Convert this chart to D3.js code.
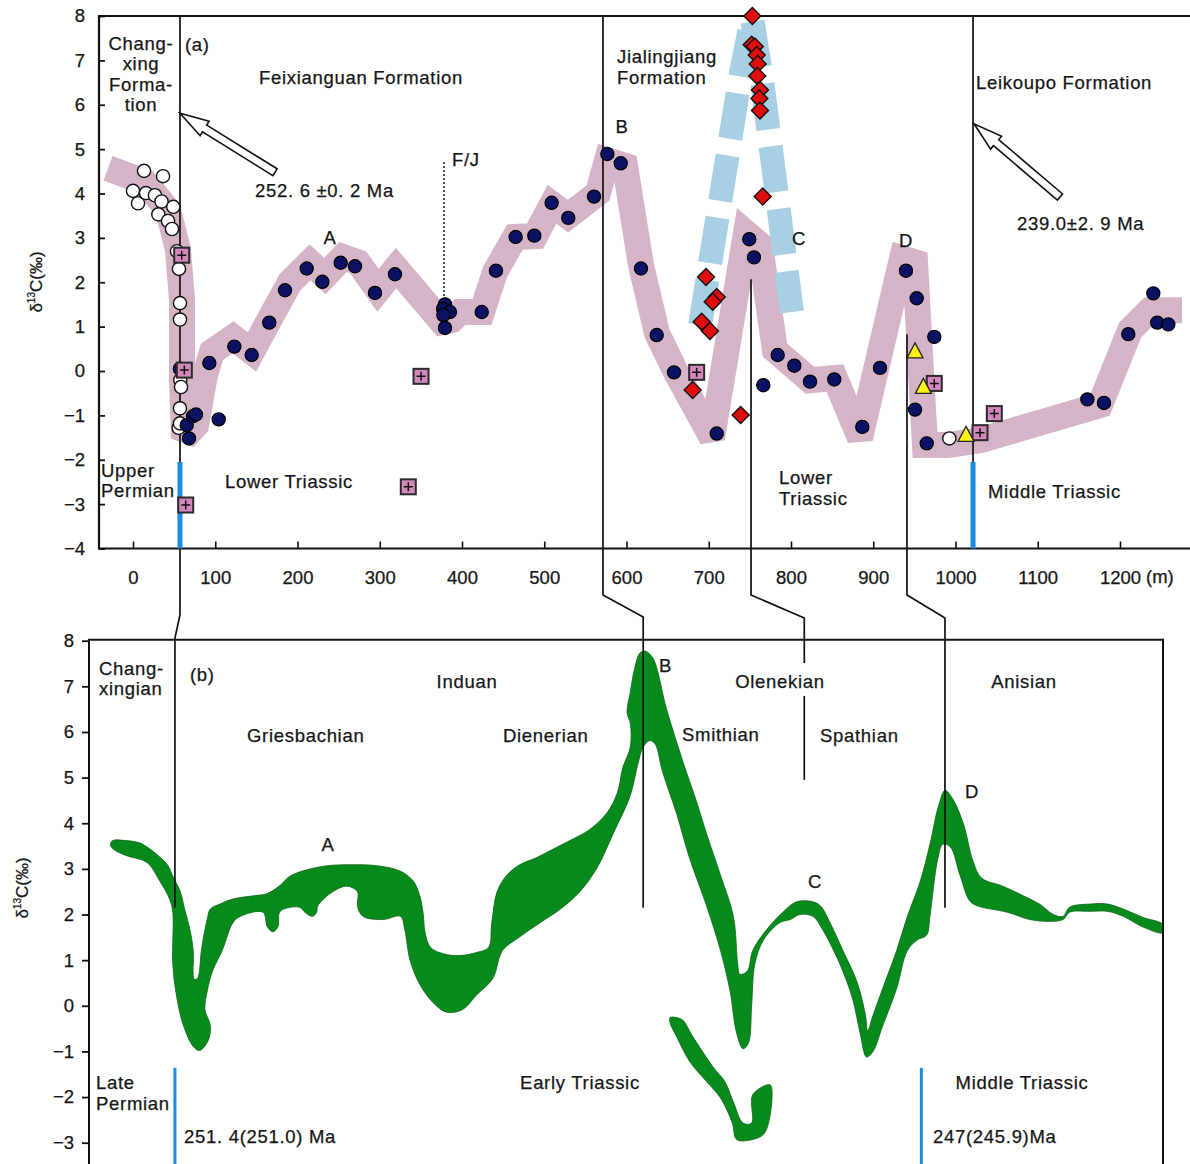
<!DOCTYPE html>
<html><head><meta charset="utf-8">
<script src="https://cdn.jsdelivr.net/npm/d3@7"></script>
<style>
html,body{margin:0;padding:0;background:#fff;}
svg{display:block;}
text{font-family:"Liberation Sans",Arial,Helvetica,sans-serif;fill:#151515;stroke:#151515;stroke-width:0.25;}
</style></head><body>
<svg id="chart" width="1190" height="1164"></svg>
<script>
// ---------- Panel (a): section data, thickness (m) vs δ13C (‰) ----------
const xTicksA = [0,100,200,300,400,500,600,700,800,900,1000,1100,1200];
const yTicksA = [-4,-3,-2,-1,0,1,2,3,4,5,6,7,8];

// Changxing Formation samples (open circles) and one Leikoupo open circle
const openCircles = [
  [13.4,4.51],[36.5,4.39],[0,4.06],[6.1,3.78],[15.8,4.01],[26.7,3.96],[34.7,3.82],[49,3.70],
  [30.8,3.53],[42.6,3.38],[47.4,3.20],[53.5,2.70],[55.9,2.30],[57.1,1.53],[57.1,1.16],
  [57.5,-0.2],[58.4,-0.36],[57.1,-0.84],[55.5,-1.28],[57.1,-1.18],[992.5,-1.52]
];
// Main sample series (filled navy circles)
const navyDots = [
  [57,0.05],[65.3,-1.22],[68.1,-1.52],[73,-1.02],[76.6,-0.98],[92.8,0.18],[104.2,-1.09],
  [123.2,0.55],[144.3,0.36],[165.7,1.09],[184.8,1.82],[211.2,2.31],[230.2,2.01],[252.5,2.44],
  [269.9,2.36],[294.2,1.76],[318.5,2.18],[379.3,1.5],[377,1.4],[385.4,1.33],[377.3,1.26],
  [379.3,0.97],[424,1.33],[441.3,2.26],[465.3,3.02],[487.9,3.05],[509,3.79],[529.2,3.45],
  [560.5,3.93],[576.7,4.89],[593,4.68],[617.6,2.31],[636.7,0.81],[657.8,-0.03],[709.7,-1.41],
  [749.3,2.97],[755,2.56],[766.3,-0.32],[783.8,0.36],[804,0.12],[823.1,-0.24],[852.6,-0.19],
  [886.7,-1.26],[908.2,0.07],[939.8,2.26],[952.8,1.64],[974.2,0.77],[950.8,-0.87],[965,-1.63],
  [1160.3,-0.64],[1180.5,-0.72],[1210.1,0.83],[1240.5,1.75],[1245.3,1.09],[1258.7,1.05]
];
// Pink squares with cross
const crossSquares = [
  [59.2,2.61],[62.4,0.02],[64.1,-3.02],[350.2,-0.12],[334.7,-2.61],[685.3,-0.03],
  [974.2,-0.28],[1029.8,-1.39],[1047.2,-0.96]
];
// Red diamonds
const redDiamonds = [
  [753,8.0],[752.2,7.35],[756,7.31],[758.3,7.12],[759.5,6.92],[759,6.65],[762.3,6.33],
  [761.5,6.14],[762.3,5.87],[765.6,3.93],[696.7,2.12],[709.7,1.67],[704.8,1.56],
  [691.4,1.11],[701.5,0.90],[680.4,-0.43],[738.8,-0.99]
];
// Yellow triangles
const yellowTriangles = [[950.8,0.43],[960.9,-0.37],[1012.8,-1.45]];

// Smoothed trend band (mauve) through the section
const trendBand = [
  [-30.4,4.57],[14.6,4.26],[42.6,3.63],[54.7,2.73],[59.6,1.60],[59.6,-0.21],[62.0,-1.51],
  [76.6,-1.22],[87.5,-0.09],[96.0,0.43],[121.6,0.76],[144.7,0.43],[164.1,1.10],[190.9,2.00],
  [215.2,2.45],[233.4,2.14],[255.3,2.57],[273.6,2.45],[297.9,1.82],[319.8,2.32],[375.7,1.10],
  [387.8,1.15],[397.6,1.33],[424.3,1.33],[440.1,2.23],[464.4,3.02],[488.8,3.04],[509.4,3.76],
  [528.9,3.49],[565.3,4.01],[576.3,4.75],[598.2,4.62],[617.6,2.39],[637.1,0.85],[660.2,-0.03],
  [704.0,-1.51],[745.3,3.11],[762.3,2.84],[780.5,0.47],[823.1,-0.21],[853.5,-0.16],[883.9,-1.51],
  [935.0,2.54],[950.8,2.45],[962.9,-1.67],[990.9,-1.67],[1029.8,-1.56],[1175.7,-0.77],
  [1212.2,0.92],[1236.5,1.37],[1275.4,1.37]
];
// Dashed light-blue trend through the red diamonds
const diamondTrend = [
  [689.4,1.03],[739.2,6.72],[752.6,7.95],[764.7,6.56],[801.2,1.33]
];

// Boundaries (m) and ages
const boundaryChangxing = 57.1, boundaryB = 571.4, boundaryC = 751.4, boundaryD = 941.0,
      boundaryLeikoupo = 1021.3, boundaryFJ = 378.1;
const ageArrows = [
  {tip:[57.1,5.81], tail:[172.6,4.48]},
  {tip:[1022.5,5.57], tail:[1127,3.92]}
];

// ---------- Panel (b): composite curve, relative time (0–100) vs δ13C ----------
const yTicksB = [-3,-2,-1,0,1,2,3,4,5,6,7,8];
const greenUpper = [
  [2.2,3.62],[3.4,3.62],[4.7,3.57],[5.4,3.48],[6.3,3.32],[7.3,3.09],[7.8,2.84],[8.5,2.50],
  [8.9,2.12],[9.4,1.67],[9.7,1.21],[9.8,0.58],[10.1,0.60],[10.5,1.28],[11.0,1.89],[11.3,2.12],
  [12.2,2.23],[13.4,2.34],[15.3,2.41],[16.6,2.46],[17.8,2.64],[18.7,2.84],[20.3,2.98],[22.2,3.07],
  [24.3,3.09],[26.8,3.07],[29.0,2.95],[30.2,2.73],[30.8,2.41],[31.1,2.05],[31.3,1.60],[31.8,1.28],
  [33.0,1.14],[34.5,1.10],[36.1,1.17],[37.2,1.28],[37.5,1.82],[38.0,2.50],[38.9,2.86],[40.1,3.09],
  [41.7,3.25],[43.6,3.48],[45.1,3.66],[46.6,3.86],[48.2,4.22],[49.2,4.67],[49.7,5.22],[50.4,5.67],
  [50.4,6.19],[50.1,6.42],[50.4,6.87],[50.8,7.39],[51.3,7.73],[51.8,7.77],[52.5,7.62],[53.8,6.48],
  [55.3,5.35],[56.6,4.45],[57.5,3.77],[58.8,2.86],[60.0,1.96],[60.4,0.92],[60.6,0.69],[61.3,0.76],
  [61.8,1.21],[63.1,1.67],[64.6,2.05],[65.9,2.28],[67.4,2.28],[68.1,2.19],[69.0,1.82],[70.2,1.21],
  [71.5,0.53],[72.3,-0.21],[72.5,-0.55],[73.0,-0.21],[73.9,0.38],[75.2,1.21],[76.2,1.96],[77.4,2.73],
  [78.3,3.54],[79.1,4.38],[79.7,4.72],[80.4,4.54],[81.4,4.00],[82.3,3.18],[83.1,2.80],[85.1,2.62],
  [87.0,2.41],[88.5,2.23],[89.8,2.00],[90.7,1.96],[91.3,2.16],[93.2,2.23],[94.8,2.23],[96.3,2.12],
  [98.1,1.94],[100,1.78]
];
const greenLower = [
  [100,1.60],[98.1,1.73],[96.3,1.96],[94.8,2.07],[93.2,2.07],[91.3,2.05],[90.7,1.89],[89.5,1.85],
  [87.6,1.89],[85.5,2.05],[82.7,2.19],[82.0,2.30],[81.1,2.86],[80.2,3.48],[79.5,3.54],[79.0,3.18],
  [78.3,1.96],[78.0,1.55],[77.1,1.44],[76.2,1.21],[75.2,0.38],[73.9,-0.44],[73.0,-1.00],[72.4,-1.12],
  [71.8,-0.60],[71.1,0.15],[69.9,0.92],[68.3,1.67],[67.4,1.96],[66.2,2.00],[65.3,1.89],[64.3,1.82],
  [62.8,1.44],[62.0,0.92],[61.7,0.01],[61.4,-0.82],[60.9,-0.94],[60.3,-0.60],[59.7,0.31],[58.8,1.21],
  [57.5,2.19],[55.9,3.25],[54.7,4.22],[53.4,5.13],[52.7,5.74],[52.2,5.81],[51.6,5.67],[51.1,5.29],
  [50.4,4.61],[48.8,3.77],[47.3,3.02],[45.7,2.50],[43.9,2.12],[42.0,1.82],[40.1,1.51],[38.5,1.21],
  [37.6,0.60],[36.1,0.24],[34.8,-0.08],[33.3,-0.14],[32.0,0.08],[30.8,0.47],[29.9,0.99],[29.4,1.67],
  [29.0,1.96],[27.4,1.89],[25.5,1.96],[25.0,2.19],[25.0,2.50],[24.0,2.62],[22.7,2.50],[21.3,2.19],
  [21.2,2.05],[20.8,1.96],[20.1,2.05],[19.6,2.16],[17.8,2.07],[17.6,1.73],[17.1,1.62],[16.6,1.73],
  [16.2,2.05],[14.1,1.96],[13.4,1.82],[12.4,1.21],[11.5,0.76],[11.0,0.31],[10.8,-0.08],[11.3,-0.44],
  [11.1,-0.76],[10.3,-0.98],[9.7,-0.89],[8.8,-0.44],[8.2,0.15],[7.8,0.92],[7.8,2.05],[7.5,2.34],
  [6.6,2.73],[5.4,3.14],[3.5,3.29],[2.4,3.41],[2.0,3.52]
];
const greenFragment = [
  [54.1,-0.26],[55.2,-0.30],[56.2,-0.67],[58.1,-1.34],[59.2,-1.66],[60.0,-2.11],[60.9,-2.57],
  [61.7,-2.57],[61.8,-1.95],[63.4,-1.73],[63.6,-1.95],[62.9,-2.79],[61.8,-2.93],[60.3,-2.93],
  [59.9,-2.57],[58.8,-2.02],[57.5,-1.66],[55.9,-1.21],[54.7,-0.67],[54.1,-0.37]
];
const stageChangxing = 8.0, stageB = 51.6, stageOlenek = 66.6, stageD = 79.7, blueLateP = 8.0, blueMid = 77.5;

// ---------- scales ----------
const svg = d3.select("#chart");
const xA = d3.scaleLinear().domain([0,1200]).range([133,1120]);
const yA = d3.scaleLinear().domain([-4,8]).range([548.5,16]);
const xB = d3.scaleLinear().domain([0,100]).range([89,1163]);
const yB = d3.scaleLinear().domain([-3,8]).range([1142.7,640.7]);

const frameA = {left:99, right:1190, top:yA(8), bottom:yA(-4)};
const frameB = {left:89, right:1163, top:yB(8)-1, bottom:1164};

const ink = "#111";
const FONT = 18.5;

// drawing layers: filled bands, then rules and axes, then symbols and text
const layerBands = svg.append("g");
const layerLines = svg.append("g");
const layerMarks = svg.append("g");

// ---------- bands ----------
layerBands.append("path").datum(trendBand)
  .attr("d", d3.line().x(d=>xA(d[0])).y(d=>yA(d[1])))
  .attr("fill","none").attr("stroke","#d6b4c7").attr("stroke-width",26)
  .attr("stroke-linejoin","miter").attr("stroke-miterlimit",2.2);

layerBands.append("path").datum(diamondTrend)
  .attr("d", d3.line().x(d=>xA(d[0])).y(d=>yA(d[1])))
  .attr("fill","none").attr("stroke","#a8d0e5").attr("stroke-width",24)
  .attr("stroke-dasharray","46,17").attr("stroke-linejoin","miter");

svg.append("defs").append("clipPath").attr("id","clipB").append("rect")
  .attr("x",frameB.left).attr("y",frameB.top).attr("width",frameB.right-frameB.left).attr("height",frameB.bottom-frameB.top);
const outline = d3.line().x(d=>xB(d[0])).y(d=>yB(d[1])).curve(d3.curveCatmullRomClosed.alpha(0.5));
const gG = layerBands.append("g").attr("clip-path","url(#clipB)");
gG.append("path").datum(greenUpper.concat(greenLower)).attr("d",outline)
  .attr("fill","#078a1c").attr("stroke","#0a6414").attr("stroke-width",0.8);
gG.append("path").datum(greenFragment).attr("d",outline)
  .attr("fill","#078a1c").attr("stroke","#0a6414").attr("stroke-width",0.8);

// ---------- frames and axes ----------
layerLines.append("path")
  .attr("d",`M${frameA.right},${frameA.top}H${frameA.left}V${frameA.bottom}H${frameA.right}`)
  .attr("fill","none").attr("stroke",ink).attr("stroke-width",2.2);

const axYA = layerLines.append("g").attr("transform",`translate(${frameA.left},0)`)
  .call(d3.axisLeft(yA).tickValues(yTicksA).tickSize(-6).tickSizeOuter(0).tickPadding(14));
axYA.select(".domain").remove();
axYA.selectAll(".tick line").attr("stroke",ink).attr("stroke-width",1.8);
axYA.selectAll(".tick text").attr("font-size",FONT).attr("font-family",null).attr("fill","#151515");

const axXA = layerLines.append("g").attr("transform",`translate(0,${frameA.bottom})`)
  .call(d3.axisBottom(xA).tickValues(xTicksA).tickFormat(d3.format("d"))
    .tickSize(-7).tickSizeOuter(0).tickPadding(22));
axXA.select(".domain").remove();
axXA.selectAll(".tick line").attr("stroke",ink).attr("stroke-width",1.6);
axXA.selectAll(".tick text").attr("font-size",FONT).attr("font-family",null).attr("fill","#151515");
layerLines.append("text").attr("x",xA(1200)+26).attr("y",frameA.bottom+34).attr("font-size",FONT).text("(m)");

layerLines.append("path").attr("d",`M${frameB.left},${frameB.bottom}V${frameB.top}H${frameB.right}V${frameB.bottom}`)
  .attr("fill","none").attr("stroke",ink).attr("stroke-width",2);
const axYB = layerLines.append("g").attr("transform",`translate(${frameB.left},0)`)
  .call(d3.axisLeft(yB).tickValues(yTicksB).tickSize(7).tickSizeOuter(0).tickPadding(8));
axYB.select(".domain").remove();
axYB.selectAll(".tick line").attr("stroke",ink).attr("stroke-width",1.8);
axYB.selectAll(".tick text").attr("font-size",FONT).attr("font-family",null).attr("fill","#151515");

// boundary lines running from panel (a) into panel (b)
const ties = [
  {pts:[[xA(boundaryChangxing),frameA.top],[xA(boundaryChangxing),615],[xB(stageChangxing),638],[xB(stageChangxing),yB(2.15)]]},
  {pts:[[xA(boundaryB),frameA.top],[xA(boundaryB),595],[xB(stageB),617],[xB(stageB),yB(2.15)]]},
  {pts:[[xA(boundaryC),yA(2.07)],[xA(boundaryC),595],[xB(stageOlenek),618],[xB(stageOlenek),yB(7.51)]]},
  {pts:[[xB(stageOlenek),yB(6.79)],[xB(stageOlenek),yB(4.95)]]},
  {pts:[[xA(boundaryD),yA(0.83)],[xA(boundaryD),595],[xB(stageD),618],[xB(stageD),yB(2.15)]]},
  {pts:[[xA(boundaryLeikoupo),frameA.top],[xA(boundaryLeikoupo),frameA.bottom]]}
];
layerLines.selectAll("path.tie").data(ties).join("path").attr("class","tie")
  .attr("d",d=>d3.line()(d.pts)).attr("fill","none").attr("stroke",ink).attr("stroke-width",1.7);

// blue period boundaries
[boundaryChangxing, boundaryLeikoupo].forEach(m=>{
  layerLines.append("line").attr("x1",xA(m)).attr("x2",xA(m)).attr("y1",yA(-2.05)).attr("y2",frameA.bottom)
    .attr("stroke","#1c8be0").attr("stroke-width",5);
});
[blueLateP, blueMid].forEach(t=>{
  layerLines.append("line").attr("x1",xB(t)).attr("x2",xB(t)).attr("y1",yB(-1.36)).attr("y2",frameB.bottom)
    .attr("stroke","#1c8be0").attr("stroke-width",3);
});

layerLines.append("line").attr("x1",xA(boundaryFJ)).attr("x2",xA(boundaryFJ)).attr("y1",yA(4.71)).attr("y2",yA(1.6))
  .attr("stroke","#222").attr("stroke-width",1.6).attr("stroke-dasharray","2,2");

// hollow age arrows
function arrowPath(tip, tail){
  const tx=xA(tip[0]), ty=yA(tip[1]), sx=xA(tail[0]), sy=yA(tail[1]);
  const dx=tx-sx, dy=ty-sy, L=Math.hypot(dx,dy);
  const ux=dx/L, uy=dy/L, nx=-uy, ny=ux;
  const hl=29, hw=8.5, sw=4;
  const bx=tx-ux*hl, by=ty-uy*hl;
  const p=[[sx+nx*sw,sy+ny*sw],[bx+nx*sw,by+ny*sw],[bx+nx*hw,by+ny*hw],[tx,ty],
           [bx-nx*hw,by-ny*hw],[bx-nx*sw,by-ny*sw],[sx-nx*sw,sy-ny*sw]];
  return "M"+p.map(q=>q[0].toFixed(1)+","+q[1].toFixed(1)).join("L")+"Z";
}
layerLines.selectAll("path.arrow").data(ageArrows).join("path").attr("class","arrow")
  .attr("d",d=>arrowPath(d.tip,d.tail)).attr("fill","#fff").attr("stroke",ink).attr("stroke-width",1.6)
  .attr("stroke-linejoin","miter");

// ---------- sample symbols ----------
layerMarks.selectAll("circle.open").data(openCircles).join("circle").attr("class","open")
  .attr("cx",d=>xA(d[0])).attr("cy",d=>yA(d[1])).attr("r",6.6)
  .attr("fill","#fff").attr("stroke",ink).attr("stroke-width",1.4);
layerMarks.selectAll("circle.navy").data(navyDots).join("circle").attr("class","navy")
  .attr("cx",d=>xA(d[0])).attr("cy",d=>yA(d[1])).attr("r",6.6)
  .attr("fill","#0b1263").attr("stroke","#000").attr("stroke-width",1.2);
const sq = layerMarks.selectAll("g.sq").data(crossSquares).join("g").attr("class","sq")
  .attr("transform",d=>`translate(${xA(d[0])},${yA(d[1])})`);
sq.append("rect").attr("x",-7.5).attr("y",-7.5).attr("width",15).attr("height",15)
  .attr("fill","#d487bb").attr("stroke","#2a2a2a").attr("stroke-width",2);
sq.append("path").attr("d","M-4.5,0H4.5M0,-4.5V4.5").attr("stroke","#111").attr("stroke-width",1.5);
layerMarks.selectAll("path.dia").data(redDiamonds).join("path").attr("class","dia")
  .attr("transform",d=>`translate(${xA(d[0])},${yA(d[1])})`)
  .attr("d","M0,-8.5L8.5,0L0,8.5L-8.5,0Z").attr("fill","#e00d0d").attr("stroke","#111").attr("stroke-width",1.4);
layerMarks.selectAll("path.tri").data(yellowTriangles).join("path").attr("class","tri")
  .attr("transform",d=>`translate(${xA(d[0])},${yA(d[1])})`)
  .attr("d","M0,-9L8,6L-8,6Z").attr("fill","#fff21a").attr("stroke","#222").attr("stroke-width",1.3);

// ---------- text ----------
const labelsA = [
  ["Chang-",141,50,"middle"],["xing",141,70,"middle"],["Forma-",141,91,"middle"],["tion",141,111,"middle"],
  ["(a)",185,51,"start"],["Feixianguan Formation",361,84,"middle"],
  ["Jialingjiang",617,63,"start"],["Formation",617,84,"start"],["Leikoupo Formation",976,89,"start"],
  ["252. 6 ±0. 2 Ma",255,197,"start"],["239.0±2. 9 Ma",1017,230,"start"],
  ["A",330,244,"middle"],["F/J",452,166,"start"],["B",622,133,"middle"],["C",799,245,"middle"],["D",906,247,"middle"],
  ["Upper",101,477,"start"],["Permian",101,497,"start"],["Lower Triassic",225,488,"start"],
  ["Lower",779,484,"start"],["Triassic",779,505,"start"],["Middle Triassic",988,498,"start"]
];
const labelsB = [
  ["Chang-",99,675,"start"],["xingian",99,695,"start"],["(b)",190,681,"start"],
  ["Induan",467,688,"middle"],["Olenekian",780,688,"middle"],["Anisian",1024,688,"middle"],
  ["Griesbachian",247,742,"start"],["Dienerian",503,742,"start"],["Smithian",682,741,"start"],["Spathian",820,742,"start"],
  ["B",659,672,"start"],["A",328,851,"middle"],["C",815,888,"middle"],["D",972,798,"middle"],
  ["Late",96,1089,"start"],["Permian",96,1110,"start"],["251. 4(251.0) Ma",184,1143,"start"],
  ["Early Triassic",580,1089,"middle"],["Middle Triassic",1022,1089,"middle"],["247(245.9)Ma",933,1143,"start"]
];
layerMarks.selectAll("text.lab").data(labelsA.concat(labelsB)).join("text").attr("class","lab")
  .attr("x",d=>d[1]).attr("y",d=>d[2]).attr("text-anchor",d=>d[3])
  .attr("font-size",FONT).attr("letter-spacing",0.7).text(d=>d[0]);

function yTitle(g,x,y){
  const t=g.append("text").attr("transform",`translate(${x},${y}) rotate(-90)`)
    .attr("text-anchor","middle").attr("font-size",17);
  t.append("tspan").text("δ");
  t.append("tspan").attr("font-size",10).attr("dy",-7).text("13");
  t.append("tspan").attr("dy",7).text("C(‰)");
}
yTitle(layerMarks,42,282);
yTitle(layerMarks,28,888);
</script></body></html>
